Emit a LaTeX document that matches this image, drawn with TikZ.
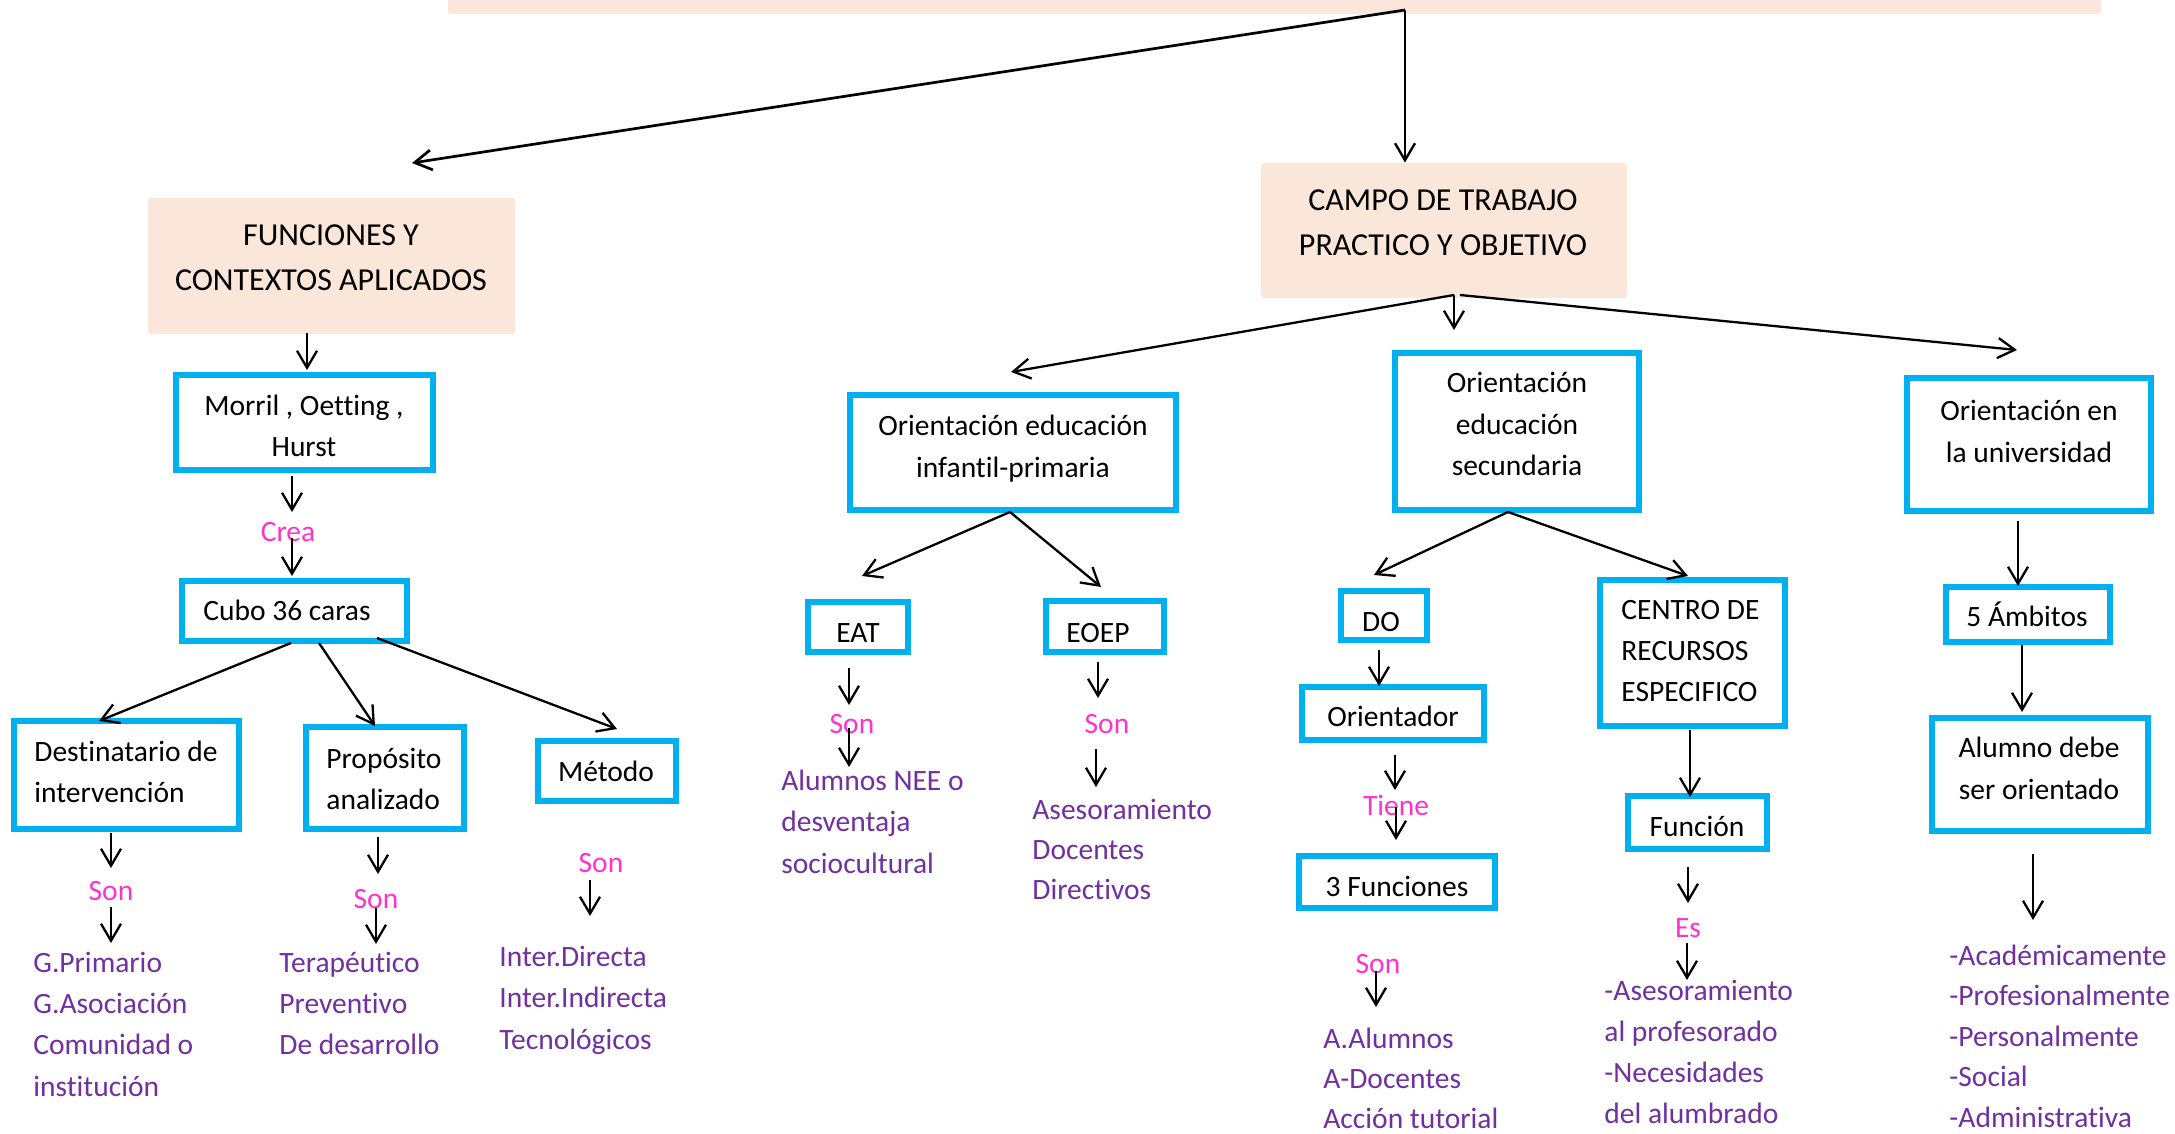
\documentclass[tikz,border=0pt]{standalone}
\usepackage{fontspec}
\setmainfont{Carlito}[Ligatures=NoCommon]
\usetikzlibrary{arrows.meta}
\definecolor{peach}{HTML}{FBE7D9}
\definecolor{cyanb}{HTML}{00B0F0}
\definecolor{pinkl}{HTML}{FF33CC}
\definecolor{purpl}{HTML}{7030A0}
\tikzset{
  bluebox/.style={draw=cyanb, line width=3pt, inner sep=0pt},
  peachbox/.style={fill=peach, rounded corners=1.5pt, inner sep=0pt},
  txt/.style={inner sep=0pt, anchor=base, yshift=-1.2pt, font=\fontsize{14.75}{18}\selectfont},
  txtl/.style={txt, anchor=base west},
  ttl/.style={inner sep=0pt, anchor=base, yshift=-1.2pt, font=\fontsize{16}{19}\selectfont},
  lbl/.style={txt, text=pinkl},
  itm/.style={txt, text=purpl, anchor=base west},
  arr/.style={-{Straight Barb[length=8.5pt,width=10pt]}, line width=1.15pt},
}
\newcommand\bbox[5]{\node[bluebox, minimum width={(#4-#2-6)*0.5pt}, minimum height={(#5-#3-6)*0.5pt}] (#1) at ({(#2+#4)/2},{(#3+#5)/2}) {};}
\newcommand\pbox[5]{\node[peachbox, minimum width={(#4-#2)*0.5pt}, minimum height={(#5-#3)*0.5pt}] (#1) at ({(#2+#4)/2},{(#3+#5)/2}) {};}
\newcommand\conn[5]{\coordinate (#1-s) at (#2,#3); \coordinate (#1-e) at (#4,#5); \draw[arr] (#1-s) -- (#1-e);}
\begin{document}
\begin{tikzpicture}[x=0.5pt,y=-0.5pt]
\useasboundingbox (0,0) rectangle (2175,1134);
\fill[white] (0,0) rectangle (2175,1134);

% peach boxes
\pbox{banner}{448}{-20}{2101}{14}
\pbox{funciones}{148}{198}{515}{334}
\pbox{campo}{1261}{163}{1627}{298}
\node[ttl] (fun1) at (331,243) {FUNCIONES Y};
\node[ttl] (fun2) at (331,288) {CONTEXTOS APLICADOS};
\node[ttl] (cam1) at (1443,208) {CAMPO DE TRABAJO};
\node[ttl] (cam2) at (1443,253) {PRACTICO Y OBJETIVO};

% blue boxes
\bbox{morril}{173}{372}{436}{473}
\bbox{cubo}{179}{578}{410}{644}
\bbox{dest}{11}{718}{242}{832}
\bbox{prop}{303}{724}{467}{832}
\bbox{metodo}{535}{738}{679}{804}
\bbox{infprim}{847}{392}{1179}{513}
\bbox{eat}{805}{599}{911}{655}
\bbox{eoep}{1043}{598}{1167}{655}
\bbox{secund}{1392}{350}{1642}{513}
\bbox{do}{1338}{588}{1430}{643}
\bbox{orientador}{1299}{684}{1487}{743}
\bbox{tresf}{1296}{853}{1498}{911}
\bbox{centro}{1597}{577}{1788}{729}
\bbox{funcion}{1625}{793}{1770}{852}
\bbox{univ}{1904}{375}{2154}{514}
\bbox{ambitos}{1943}{584}{2113}{645}
\bbox{alumno}{1929}{715}{2151}{834}

% box texts
\node[txt] (morril1) at (304,413) {Morril , Oetting ,};
\node[txt] (morril2) at (304,454) {Hurst};
\node[txtl] (cubot) at (203,618) {Cubo 36 caras};
\node[txtl] (dest1) at (34,759) {Destinatario de};
\node[txtl] (dest2) at (34,800) {intervención};
\node[txtl] (prop1) at (326,766) {Propósito};
\node[txtl] (prop2) at (326,807) {analizado};
\node[txt] (metodot) at (606,779) {Método};
\node[txt] (infprim1) at (1013,433) {Orientación educación};
\node[txt] (infprim2) at (1013,475) {infantil-primaria};
\node[txt] (eatt) at (858,640) {EAT};
\node[txt] (eoept) at (1098,640) {EOEP};
\node[txt] (secund1) at (1517,390) {Orientación};
\node[txt] (secund2) at (1517,432) {educación};
\node[txt] (secund3) at (1517,473) {secundaria};
\node[txt] (dot) at (1381,629) {DO};
\node[txt] (orientadort) at (1393,724) {Orientador};
\node[txt] (tresft) at (1397,894) {3 Funciones};
\node[txtl] (centro1) at (1621,617) {CENTRO DE};
\node[txtl] (centro2) at (1621,658) {RECURSOS};
\node[txtl] (centro3) at (1621,699) {ESPECIFICO};
\node[txt] (funciont) at (1697,834) {Función};
\node[txt] (univ1) at (2029,418) {Orientación en};
\node[txt] (univ2) at (2029,460) {la universidad};
\node[txt] (ambitost) at (2027,624) {5 Ámbitos};
\node[txt] (alumno1) at (2039,755) {Alumno debe};
\node[txt] (alumno2) at (2039,797) {ser orientado};

% pink labels
\node[lbl] (crea) at (288,539) {Crea};
\node[lbl] (sondest) at (111,898) {Son};
\node[lbl] (sonprop) at (376,906) {Son};
\node[lbl] (sonmet) at (601,870) {Son};
\node[lbl] (soneat) at (852,731) {Son};
\node[lbl] (soneoep) at (1107,731) {Son};
\node[lbl] (tiene) at (1396,813) {Tiene};
\node[lbl] (sontres) at (1378,971) {Son};
\node[lbl] (es) at (1688,935) {Es};

% purple lists
\foreach \t [count=\i] in {G.Primario,G.Asociación,Comunidad o,institución}
  \node[itm] (ldest\i) at (33,{970+(\i-1)*41.2}) {\t};
\foreach \t [count=\i] in {Terapéutico,Preventivo,De desarrollo}
  \node[itm] (lprop\i) at (279,{970+(\i-1)*41.2}) {\t};
\foreach \t [count=\i] in {Inter.Directa,Inter.Indirecta,Tecnológicos}
  \node[itm] (lmet\i) at (499,{964+(\i-1)*41.5}) {\t};
\foreach \t [count=\i] in {Alumnos NEE o,desventaja,sociocultural}
  \node[itm] (leat\i) at (781,{788+(\i-1)*41.5}) {\t};
\foreach \t [count=\i] in {Asesoramiento,Docentes,Directivos}
  \node[itm] (leoep\i) at (1032,{817+(\i-1)*40}) {\t};
\foreach \t [count=\i] in {A.Alumnos,A-Docentes,Acción tutorial}
  \node[itm] (ltres\i) at (1323,{1046+(\i-1)*40}) {\t};
\foreach \t [count=\i] in {-Asesoramiento,al profesorado,-Necesidades,del alumbrado}
  \node[itm] (lfun\i) at (1604,{998+(\i-1)*41}) {\t};
\foreach \t [count=\i] in {-Académicamente,-Profesionalmente,-Personalmente,-Social,-Administrativa}
  \node[itm] (lalu\i) at (1949,{963+(\i-1)*40.5}) {\t};

% connectors
\coordinate (top) at (1405,10);
\coordinate (funtip) at (412,163);
\draw[arr, line width=1.35pt] (top) -- (funtip);
\draw[arr, line width=1.2pt] (top) -- (top |- campo.north);
\conn{fm}{307}{333}{307}{370}
\conn{mc}{292}{476}{292}{512}
\conn{cc}{292}{538}{292}{576}
\conn{cd}{291}{643}{99}{721}
\conn{cp}{319}{643}{375}{726}
\conn{cm}{377}{638}{617}{729}
\conn{ds}{111}{833}{111}{868}
\conn{dl}{111}{907}{111}{943}
\conn{ps}{378}{837}{378}{874}
\conn{pl}{376}{908}{376}{944}
\conn{ml}{590}{880}{590}{916}
\conn{ci}{1454}{295}{1011}{372}
\conn{cs}{1454}{295}{1454}{330}
\conn{cu}{1460}{295}{2017}{350}
\conn{ie}{1010}{512}{862}{576}
\conn{io}{1010}{512}{1101}{587}
\conn{es1}{849}{668}{849}{705}
\conn{es2}{849}{728}{849}{767}
\conn{os1}{1098}{662}{1098}{698}
\conn{os2}{1096}{749}{1096}{787}
\conn{sd}{1508}{512}{1374}{575}
\conn{sc}{1508}{512}{1688}{576}
\conn{dor}{1379}{650}{1379}{686}
\conn{ot1}{1395}{755}{1395}{790}
\conn{ot2}{1396}{807}{1396}{840}
\conn{tl}{1376}{971}{1376}{1007}
\conn{cf}{1690}{730}{1690}{797}
\conn{fe1}{1688}{867}{1688}{903}
\conn{fe2}{1687}{943}{1687}{980}
\conn{ua}{2018}{521}{2018}{586}
\conn{aa}{2022}{645}{2022}{712}
\conn{al}{2033}{854}{2033}{920}
\end{tikzpicture}
\end{document}
